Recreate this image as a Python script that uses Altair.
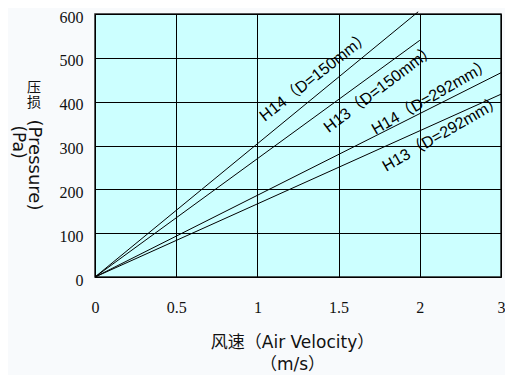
import altair as alt
import pandas as pd

# ---- data ----
series = ["H14（D=150mm）", "H13（D=150mm）", "H14（D=292mm）", "H13（D=292mm）"]
start_velocity = [0, 0, 0, 0]
start_pressure = [0, 0, 0, 0]
end_velocity = [1.99, 2.0, 2.5, 2.5]
end_pressure = [605, 540, 466, 417]

label_velocity = [1.356, 1.754, 2.073, 2.14]
label_pressure = [458, 430, 411, 327]
label_angle = [322, 323, 330, 330]

x_ticks = [0, 0.5, 1, 1.5, 2, 2.5]
x_tick_labels = ["0", "0.5", "1", "1.5", "2", "3"]
y_ticks = [0, 100, 200, 300, 400, 500, 600]

rows = []
for s, v0, p0, v1, p1 in zip(series, start_velocity, start_pressure, end_velocity, end_pressure):
    rows.append({"series": s, "v": v0, "p": p0})
    rows.append({"series": s, "v": v1, "p": p1})
lines_df = pd.DataFrame(rows)
labels_df = pd.DataFrame({"series": series, "v": label_velocity, "p": label_pressure, "ang": label_angle})

SANS = "Liberation Sans, Noto Sans CJK SC"
WIDE = "DejaVu Sans, Noto Sans CJK SC"
SERIF = "Liberation Serif"

label_map = " : ".join([f"datum.value == {v} ? '{t}'" for v, t in zip(x_ticks, x_tick_labels)]) + " : datum.label"

x_scale = alt.Scale(domain=[0, 2.5], nice=False, zero=True)
y_scale = alt.Scale(domain=[0, 600], nice=False)

x_enc = alt.X("v:Q", scale=x_scale, axis=alt.Axis(
    values=x_ticks, labelExpr=label_map, grid=True, gridColor="#000", gridOpacity=1, gridWidth=1,
    ticks=False, domain=False, labelPadding=22, labelFont=SERIF, labelFontSize=16,
    labelColor="#111", labelFlush=False,
    title=["风速（Air Velocity）", "（m/s）"], titleFont=WIDE, titleFontSize=17,
    titleFontWeight="normal", titleColor="#111", titleLineHeight=22, titlePadding=19,
    titleX=197, titleBaseline="top"))
y_enc = alt.Y("p:Q", scale=y_scale, axis=alt.Axis(
    values=y_ticks, grid=True, gridColor="#000", gridOpacity=1, gridWidth=1,
    ticks=False, domain=False, labelPadding=12, labelFont=SERIF, labelFontSize=16,
    labelColor="#111", labelOffset=3, labelFlush=False, title=None))

lines = alt.Chart(lines_df).mark_line(color="#000", strokeWidth=1).encode(
    x=x_enc, y=y_enc, detail="series:N")

texts = alt.Chart(labels_df).mark_text(font=SANS, fontSize=16, color="#000",
                                       align="center", baseline="middle").encode(
    x=alt.X("v:Q", scale=x_scale), y=alt.Y("p:Q", scale=y_scale),
    text="series:N", angle=alt.Angle("ang:Q", scale=None))

one = pd.DataFrame({"a": [0]})
def tmark(txt, px, py, ang=0, size=16):
    kw = dict(font=WIDE, fontSize=size, color="#111", align="center", baseline="middle")
    if ang:
        kw["angle"] = ang
    return alt.Chart(one).mark_text(**kw).encode(
        x=alt.value(px), y=alt.value(py), text=alt.value(txt))

ytitle = [
    tmark("压", -61, 74, size=14),
    tmark("损", -61, 89, size=14),
    tmark("(Pressure)", -61, 151, 90, size=18),
    tmark("(Pa)", -77, 128, 90, size=17),
]

chart = alt.layer(lines, texts, *ytitle).properties(
    width=406, height=263,
    autosize=alt.AutoSizeParams(type="none"),
    padding={"left": 87, "top": 6, "right": 4, "bottom": 98},
    background="#f8fafc",
).configure_view(fill="#ccffff", stroke="#222", strokeWidth=1.5)

chart.save("out.html", embed_options={"renderer": "svg", "actions": False})
